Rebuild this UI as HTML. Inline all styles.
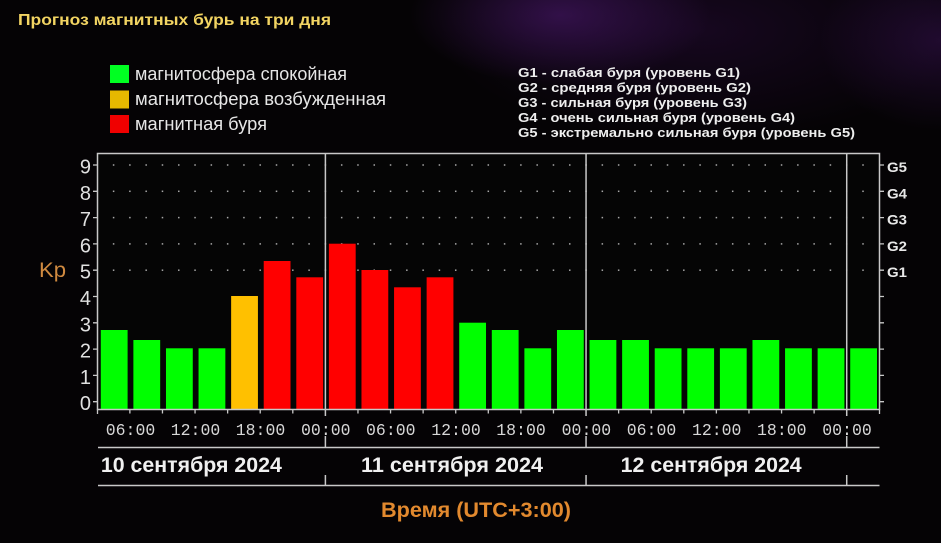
<!DOCTYPE html>
<html><head><meta charset="utf-8">
<style>
html,body{margin:0;padding:0;}
body{width:941px;height:543px;overflow:hidden;background:#050305;
background-image:
radial-gradient(ellipse 150px 70px at 560px 15px, rgba(95,30,140,0.45), rgba(95,30,140,0) 100%),
radial-gradient(ellipse 120px 90px at 940px 40px, rgba(80,25,120,0.35), rgba(80,25,120,0) 100%),
radial-gradient(ellipse 260px 110px at 700px 30px, rgba(55,15,80,0.35), rgba(55,15,80,0) 100%);
}
svg{display:block;}
</style></head>
<body>
<svg width="941" height="543" viewBox="0 0 941 543" xmlns="http://www.w3.org/2000/svg">
<defs>
<pattern id="dots" patternUnits="userSpaceOnUse" x="89.155" y="151.85" width="16.2917" height="26.3">
<rect x="7.4" y="12.4" width="1.5" height="1.5" fill="#a8a8a8"/>
</pattern>
</defs>

<!-- Title -->
<text x="18" y="25" font-family="Liberation Sans, sans-serif" font-weight="bold" font-size="16" fill="#f2d462" textLength="313" lengthAdjust="spacingAndGlyphs">Прогноз магнитных бурь на три дня</text>

<!-- Legend -->
<rect x="110" y="65" width="19" height="18" fill="#00ff22"/>
<rect x="110" y="90.5" width="19" height="18" fill="#e6b800"/>
<rect x="110" y="115" width="19" height="18" fill="#f00000"/>
<g font-family="Liberation Sans, sans-serif" font-size="18" fill="#e6e6e6">
<text x="135" y="80" textLength="212" lengthAdjust="spacingAndGlyphs">магнитосфера спокойная</text>
<text x="135" y="105" textLength="251" lengthAdjust="spacingAndGlyphs">магнитосфера возбужденная</text>
<text x="135" y="130" textLength="132" lengthAdjust="spacingAndGlyphs">магнитная буря</text>
</g>

<g font-family="Liberation Sans, sans-serif" font-weight="bold" font-size="13" fill="#eeeeee">
<text x="518" y="77" textLength="222" lengthAdjust="spacingAndGlyphs">G1 - слабая буря (уровень G1)</text>
<text x="518" y="92" textLength="233" lengthAdjust="spacingAndGlyphs">G2 - средняя буря (уровень G2)</text>
<text x="518" y="107" textLength="229" lengthAdjust="spacingAndGlyphs">G3 - сильная буря (уровень G3)</text>
<text x="518" y="122" textLength="277" lengthAdjust="spacingAndGlyphs">G4 - очень сильная буря (уровень G4)</text>
<text x="518" y="137" textLength="337" lengthAdjust="spacingAndGlyphs">G5 - экстремально сильная буря (уровень G5)</text>
</g>

<!-- chart background -->
<rect x="97.5" y="153.5" width="782" height="256" fill="#050505"/>

<!-- dots -->
<rect x="105" y="158" width="770" height="118" fill="url(#dots)"/>

<!-- Bars -->
<g fill="#00ff00">
<rect x="100.8" y="330" width="26.8" height="79"/>
<rect x="133.38" y="340" width="26.8" height="69"/>
<rect x="165.97" y="348.3" width="26.8" height="60.7"/>
<rect x="198.55" y="348.3" width="26.8" height="60.7"/>
<rect x="459.22" y="322.7" width="26.8" height="86.3"/>
<rect x="491.8" y="330" width="26.8" height="79"/>
<rect x="524.38" y="348.3" width="26.8" height="60.7"/>
<rect x="556.97" y="330" width="26.8" height="79"/>
<rect x="589.55" y="340" width="26.8" height="69"/>
<rect x="622.13" y="340" width="26.8" height="69"/>
<rect x="654.72" y="348.3" width="26.8" height="60.7"/>
<rect x="687.3" y="348.3" width="26.8" height="60.7"/>
<rect x="719.88" y="348.3" width="26.8" height="60.7"/>
<rect x="752.47" y="340" width="26.8" height="69"/>
<rect x="785.05" y="348.3" width="26.8" height="60.7"/>
<rect x="817.63" y="348.3" width="26.8" height="60.7"/>
<rect x="850.22" y="348.3" width="26.8" height="60.7"/>
</g>
<rect x="231.13" y="296" width="26.8" height="113" fill="#ffc000"/>
<g fill="#ff0000">
<rect x="263.72" y="261" width="26.8" height="148"/>
<rect x="296.3" y="277.3" width="26.8" height="131.7"/>
<rect x="328.88" y="243.7" width="26.8" height="165.3"/>
<rect x="361.47" y="270" width="26.8" height="139"/>
<rect x="394.05" y="287.3" width="26.8" height="121.7"/>
<rect x="426.63" y="277.3" width="26.8" height="131.7"/>
</g>

<!-- Frame -->
<g stroke="#c8c8c8" stroke-width="1.5" fill="none">
<path d="M97.5 153.5 H879.5 V409.5 H97.5 Z"/>
<!-- separators -->
<path d="M325.4 153.5 V416 M325.4 436 V447.5 M325.4 475 V485.5"/>
<path d="M586.05 153.5 V416 M586.05 436 V447.5 M586.05 475 V485.5"/>
<path d="M846.72 153.5 V416 M846.72 436 V447.5 M846.72 475 V485.5"/>
<!-- bottom lines -->
<path d="M98 447.5 H879.5 M98 485.5 H879.5"/>
</g>
<!-- ticks -->
<g stroke="#c8c8c8" stroke-width="1.3" fill="none">
<path d="M97.5 409.5 V414 M129.88 409.5 V413.5 M162.47 409.5 V413.5 M195.05 409.5 V413.5 M227.63 409.5 V413.5 M260.22 409.5 V413.5 M292.8 409.5 V413.5 M357.97 409.5 V413.5 M390.55 409.5 V413.5 M423.13 409.5 V413.5 M455.72 409.5 V413.5 M488.3 409.5 V413.5 M520.88 409.5 V413.5 M553.47 409.5 V413.5 M618.63 409.5 V413.5 M651.22 409.5 V413.5 M683.8 409.5 V413.5 M716.38 409.5 V413.5 M748.97 409.5 V413.5 M781.55 409.5 V413.5 M814.13 409.5 V413.5 M879.5 409.5 V414"/>
<path d="M93 401.7 H97.5 M93 375.4 H97.5 M93 349.1 H97.5 M93 322.8 H97.5 M93 296.5 H97.5 M93 270.2 H97.5 M93 243.9 H97.5 M93 217.6 H97.5 M93 191.3 H97.5 M93 165 H97.5"/>
<path d="M879.5 401.7 H884 M879.5 375.4 H884 M879.5 349.1 H884 M879.5 322.8 H884 M879.5 296.5 H884 M879.5 270.2 H884 M879.5 243.9 H884 M879.5 217.6 H884 M879.5 191.3 H884 M879.5 165 H884"/>
</g>

<!-- Y labels -->
<g font-family="Liberation Sans, sans-serif" font-size="20" fill="#e0e0e0" text-anchor="end">
<text x="91" y="410.2">0</text>
<text x="91" y="383.9">1</text>
<text x="91" y="357.6">2</text>
<text x="91" y="331.3">3</text>
<text x="91" y="305">4</text>
<text x="91" y="278.7">5</text>
<text x="91" y="252.4">6</text>
<text x="91" y="226.1">7</text>
<text x="91" y="199.8">8</text>
<text x="91" y="173.5">9</text>
</g>
<text x="39" y="277" font-family="Liberation Sans, sans-serif" font-size="21" fill="#d08a40" textLength="27" lengthAdjust="spacingAndGlyphs">Kp</text>

<!-- G labels -->
<g font-family="Liberation Sans, sans-serif" font-weight="bold" font-size="14" fill="#e8e8e8">
<text x="887" y="172" textLength="20" lengthAdjust="spacingAndGlyphs">G5</text>
<text x="887" y="198.3" textLength="20" lengthAdjust="spacingAndGlyphs">G4</text>
<text x="887" y="224.6" textLength="20" lengthAdjust="spacingAndGlyphs">G3</text>
<text x="887" y="250.9" textLength="20" lengthAdjust="spacingAndGlyphs">G2</text>
<text x="887" y="277.2" textLength="20" lengthAdjust="spacingAndGlyphs">G1</text>
</g>

<!-- time labels -->
<g font-family="Liberation Mono, monospace" font-size="16.5" fill="#d8d8d8" text-anchor="middle">
<text x="130.5" y="435">06:00</text>
<text x="195.5" y="435">12:00</text>
<text x="260.5" y="435">18:00</text>
<text x="325.8" y="435">00:00</text>
<text x="390.8" y="435">06:00</text>
<text x="456" y="435">12:00</text>
<text x="521" y="435">18:00</text>
<text x="586.4" y="435">00:00</text>
<text x="651.5" y="435">06:00</text>
<text x="716.7" y="435">12:00</text>
<text x="781.8" y="435">18:00</text>
<text x="847" y="435">00:00</text>
</g>

<!-- date labels -->
<g font-family="Liberation Sans, sans-serif" font-weight="bold" font-size="21" fill="#f0f0f0" text-anchor="middle">
<text x="191.4" y="472" textLength="181" lengthAdjust="spacingAndGlyphs">10 сентября 2024</text>
<text x="452" y="472" textLength="182" lengthAdjust="spacingAndGlyphs">11 сентября 2024</text>
<text x="711.2" y="472" textLength="181" lengthAdjust="spacingAndGlyphs">12 сентября 2024</text>
</g>

<text x="476" y="517" font-family="Liberation Sans, sans-serif" font-weight="bold" font-size="21" fill="#e2892e" text-anchor="middle" textLength="190" lengthAdjust="spacingAndGlyphs">Время (UTC+3:00)</text>
</svg>
</body></html>
